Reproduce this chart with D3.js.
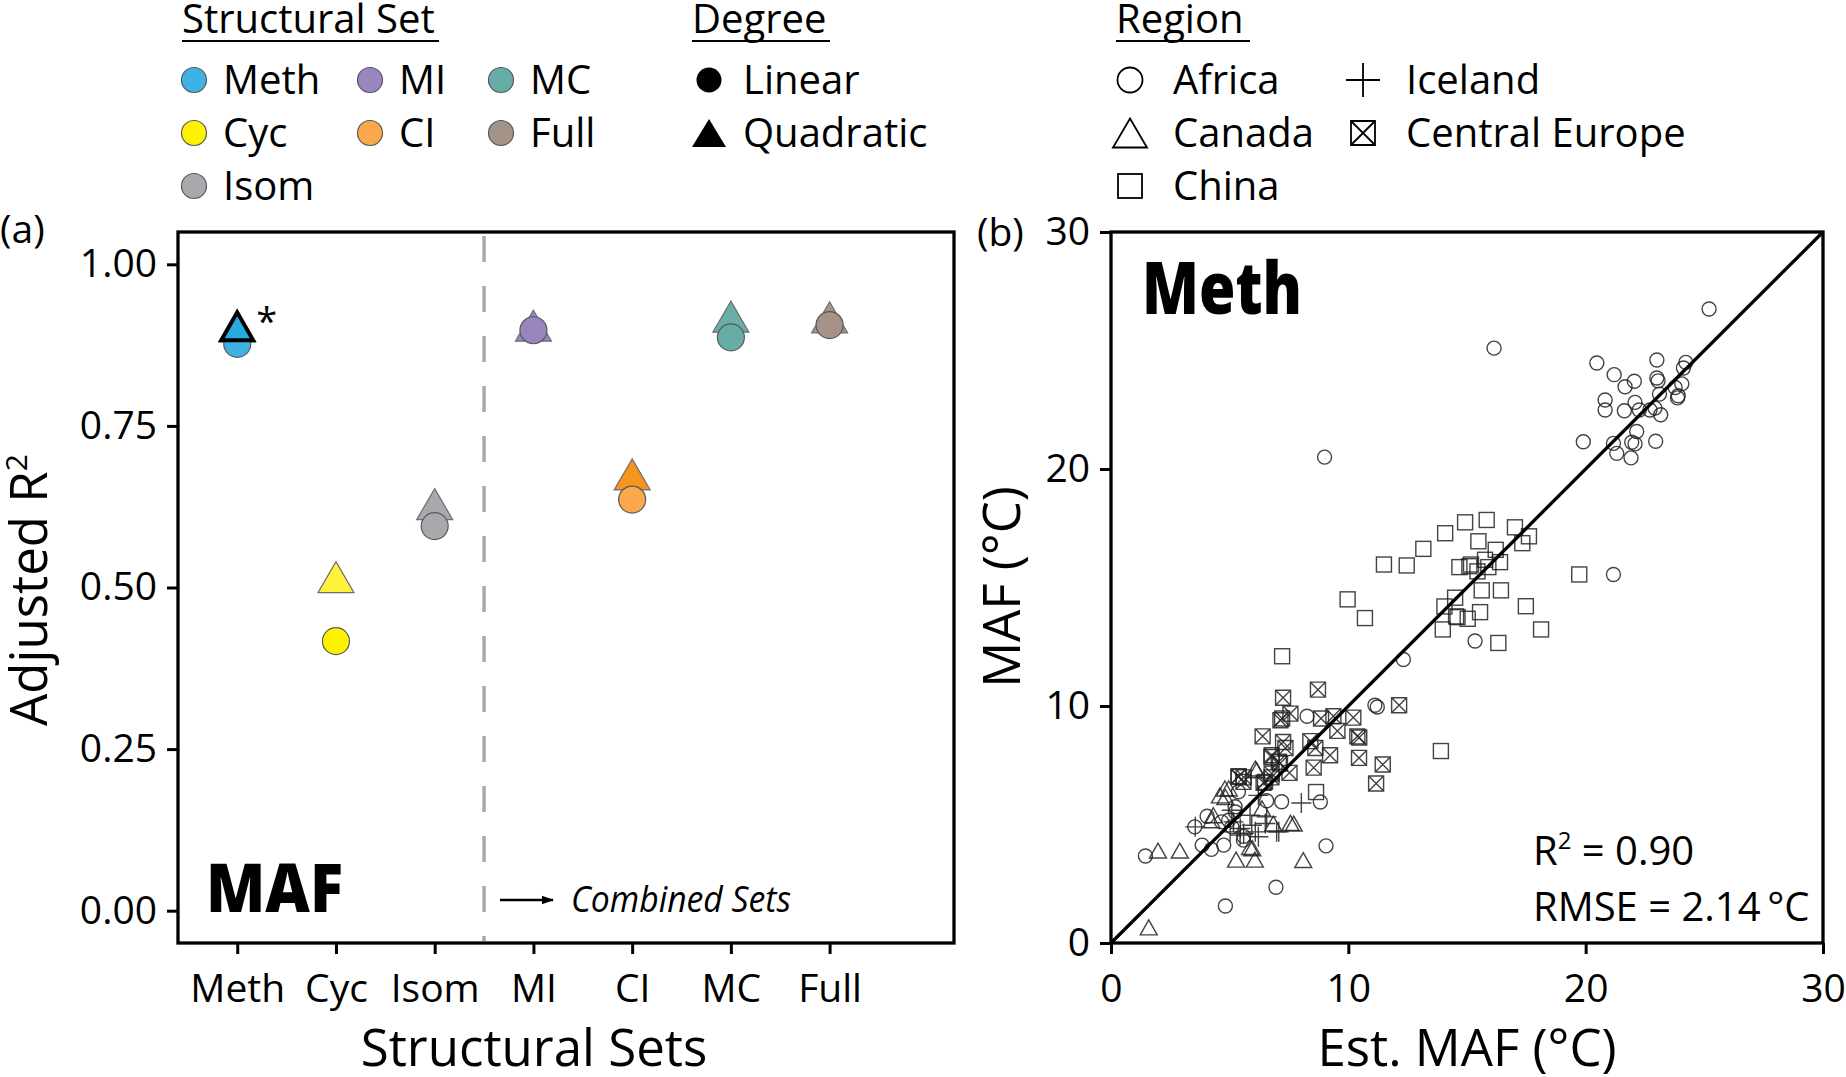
<!doctype html>
<html>
<head>
<meta charset="utf-8">
<style>
body { margin: 0; background: #fff; }
text { font-family: "Open Sans", sans-serif; }
</style>
<script src="https://cdn.jsdelivr.net/npm/d3@7"></script>
</head>
<body>
<svg width="1846" height="1077"></svg>
<script>
// ---- panel (a) data ----
var categories = ["Meth", "Cyc", "Isom", "MI", "CI", "MC", "Full"];
var linearR2 = [0.877, 0.417, 0.595, 0.898, 0.636, 0.887, 0.906];
var quadR2 = [0.904, 0.516, 0.629, 0.905, 0.675, 0.919, 0.918];
var circleColors = ["#3FB1E5", "#FFF200", "#A7A9AC", "#9A86BF", "#F9A94C", "#67ADA7", "#A69387"];
var triColors = ["#27AAE1", "#FFF23A", "#A7A9AC", "#9A86BF", "#F7941D", "#6AAEA8", "#A29388"];
var r2Ticks = [0, 0.25, 0.5, 0.75, 1];
var bestIndex = 0;

// ---- panel (b) data: [estimated MAF, measured MAF] ----
var africa = [[25.2,26.75],[20.47,24.47],[23.0,24.6],[24.22,24.5],[24.12,24.26],[21.2,23.98],[22.05,23.7],
  [21.66,23.47],[23.0,23.84],[23.05,23.72],[24.05,23.59],[23.77,23.44],[23.11,23.16],[23.9,23.09],[23.87,23.0],
  [20.82,22.91],[20.82,22.49],[21.63,22.46],[22.08,22.81],[22.26,22.49],[22.71,22.49],[22.92,22.57],[23.16,22.29],
  [22.15,21.58],[21.17,21.08],[21.94,21.13],[22.08,21.06],[19.9,21.15],[22.95,21.17],[21.31,20.66],[21.91,20.47],
  [16.14,25.1],[9.0,20.5],[21.17,15.55],[15.34,12.74],[12.32,11.96],[11.12,10.03],[11.22,9.96],[8.26,9.57],
  [1.45,3.67],[3.84,4.13],[4.23,3.95],[4.75,4.13],[9.06,4.1],[6.95,2.35],[4.82,1.56],[3.53,4.9],[4.05,5.35],
  [7.19,5.96],[8.82,5.95],[5.59,4.5],[4.96,5.18],[5.24,5.53],[5.58,4.34],[4.66,5.11],[5.37,6.38],[5.23,5.75],
  [5.09,4.9],[6.56,6.0]];
var canada = [[6.08,7.36],[4.96,6.52],[4.82,6.16],[4.23,5.18],[7.56,5.07],[7.7,5.04],[1.98,3.9],[2.9,3.9],
  [5.95,4.0],[5.27,3.52],[6.06,3.52],[8.1,3.5],[1.59,0.66],[6.36,5.68],[4.31,5.39],[5.86,4.05],[6.84,5.04],
  [4.59,6.23],[4.8,6.52],[6.14,7.29]];
var china = [[14.92,17.75],[15.83,17.85],[17.02,17.54],[17.61,17.16],[17.33,16.87],[14.08,17.29],[15.48,16.95],
  [16.21,16.59],[13.16,16.63],[11.5,15.97],[12.46,15.93],[14.68,15.86],[15.17,15.97],[15.76,16.17],[16.39,16.07],
  [15.9,15.86],[15.44,15.68],[19.73,15.55],[15.62,14.88],[16.43,14.88],[14.5,14.57],[14.05,14.2],[15.55,13.96],
  [14.54,13.78],[15.03,13.68],[17.48,14.21],[18.12,13.23],[13.98,13.23],[16.32,12.66],[9.97,14.5],[10.7,13.71],
  [13.9,8.1],[7.21,12.1],[8.64,6.37],[14.6,13.75],[15.1,15.9]];
var centralEurope = [[12.14,10.03],[10.21,9.51],[9.37,9.57],[9.54,8.95],[10.38,8.72],[10.46,8.67],[9.23,7.92],
  [10.45,7.81],[11.45,7.53],[11.17,6.73],[8.72,10.69],[7.25,10.35],[7.56,9.68],[7.21,9.47],[7.14,9.4],[8.85,9.47],
  [6.39,8.72],[7.25,8.48],[8.4,8.52],[8.61,8.23],[7.35,8.23],[6.76,7.85],[7.07,7.65],[7.52,7.18],[8.54,7.4],
  [5.38,7.04],[5.59,6.99],[6.43,6.76],[6.76,6.99],[5.37,7.01],[5.58,6.8],[6.49,6.8],[6.77,7.92],[7.12,7.57],[6.77,7.15]];
var iceland = [[8.02,5.91],[3.55,4.9],[6.98,4.69],[6.21,4.48],[5.44,4.55],[5.16,5.11],[5.93,4.97],[6.56,5.32],
  [5.09,5.6],[5.02,4.69],[5.86,5.39],[6.21,6.23],[6.5,5.04],[7.07,4.69],[6.08,4.69],[5.59,4.62],[5.45,4.83]];
var mafTicks = [0, 10, 20, 30];
var r2Text = "0.90", rmseText = "2.14";

var svg = d3.select("svg");

function triPath(w, h) {
  return "M0," + (-h / 2) + "L" + (w / 2) + "," + (h / 2) + "L" + (-w / 2) + "," + (h / 2) + "Z";
}

// ================= panel (a) =================
var xa = d3.scaleLinear().domain([-0.6, 7.26]).range([178, 954]);
var ya = d3.scaleLinear().domain([-0.05, 1.05]).range([943, 232]);

var ga = svg.append("g");
ga.append("line").attr("x1", xa(2.5)).attr("x2", xa(2.5)).attr("y1", 236).attr("y2", 941)
  .attr("stroke", "#A7A9AC").attr("stroke-width", 3.5).attr("stroke-dasharray", "26,24");

var yAxisA = ga.append("g").attr("transform", "translate(178,0)")
  .call(d3.axisLeft(ya).tickValues(r2Ticks).tickFormat(d3.format(".2f")).tickSize(11).tickPadding(10));
var xAxisA = ga.append("g").attr("transform", "translate(0,943)")
  .call(d3.axisBottom(xa).tickValues(d3.range(categories.length)).tickFormat(function(i) { return categories[i]; })
    .tickSize(11).tickPadding(12));
[yAxisA, xAxisA].forEach(function(ax) {
  ax.select(".domain").remove();
  ax.selectAll("line").attr("stroke", "#000").attr("stroke-width", 3);
  ax.selectAll("text").attr("font-size", 39).attr("fill", "#000").style("font-family", "Open Sans");
});
xAxisA.selectAll("text").attr("dy", "0.92em");

ga.selectAll("path.tri").data(categories).enter().append("path").attr("class", "tri")
  .attr("d", triPath(36, 31))
  .attr("transform", function(d, i) { return "translate(" + xa(i) + "," + ya(quadR2[i]) + ")"; })
  .attr("fill", function(d, i) { return triColors[i]; })
  .attr("stroke", "#6D6E71").attr("stroke-width", 1.2);
ga.selectAll("circle.lin").data(categories).enter().append("circle").attr("class", "lin")
  .attr("cx", function(d, i) { return xa(i); }).attr("cy", function(d, i) { return ya(linearR2[i]); })
  .attr("r", 13.5)
  .attr("fill", function(d, i) { return circleColors[i]; })
  .attr("stroke", "#58595B").attr("stroke-width", 1.2);
// best model highlighted on top
ga.append("path").attr("d", triPath(32, 28))
  .attr("transform", "translate(" + xa(bestIndex) + "," + ya(quadR2[bestIndex]) + ")")
  .attr("fill", triColors[bestIndex]).attr("stroke", "#000").attr("stroke-width", 4).attr("stroke-linejoin", "miter");
ga.append("text").attr("x", xa(bestIndex) + 19).attr("y", ya(quadR2[bestIndex]) + 9)
  .attr("font-size", 38).text("*");

ga.append("rect").attr("x", 178).attr("y", 232).attr("width", 776).attr("height", 711)
  .attr("fill", "none").attr("stroke", "#000").attr("stroke-width", 3.3);

ga.append("text").attr("x", 206).attr("y", 912).attr("font-size", 68).attr("font-weight", 800)
  .attr("textLength", 137).attr("lengthAdjust", "spacingAndGlyphs").text("MAF");
svg.append("defs").append("marker").attr("id", "arr").attr("viewBox", "0 0 10 10")
  .attr("refX", 9).attr("refY", 5).attr("markerWidth", 5).attr("markerHeight", 5).attr("orient", "auto")
  .append("path").attr("d", "M0,1.5L10,5L0,8.5Z").attr("fill", "#000");
ga.append("line").attr("x1", 500).attr("x2", 553).attr("y1", 900).attr("y2", 900)
  .attr("stroke", "#000").attr("stroke-width", 2.5).attr("marker-end", "url(#arr)");
ga.append("text").attr("x", 571).attr("y", 912).attr("font-size", 36).attr("font-style", "italic")
  .attr("textLength", 220).attr("lengthAdjust", "spacingAndGlyphs").text("Combined Sets");

ga.append("text").attr("x", 0).attr("y", 243).attr("font-size", 39).text("(a)");
ga.append("text").attr("transform", "translate(47,590) rotate(-90)").attr("text-anchor", "middle")
  .attr("font-size", 51).html("Adjusted R<tspan font-size='30' dy='-20'>2</tspan>");
ga.append("text").attr("x", 534).attr("y", 1066).attr("text-anchor", "middle").attr("font-size", 51)
  .text("Structural Sets");

// ================= panel (b) =================
var xb = d3.scaleLinear().domain([0, 30]).range([1111, 1823]);
var yb = d3.scaleLinear().domain([0, 30]).range([943, 232]);
var gb = svg.append("g");

var yAxisB = gb.append("g").attr("transform", "translate(1111,0)")
  .call(d3.axisLeft(yb).tickValues(mafTicks).tickSize(11).tickPadding(10));
var xAxisB = gb.append("g").attr("transform", "translate(0,943)")
  .call(d3.axisBottom(xb).tickValues(mafTicks).tickSize(11).tickPadding(12));
[yAxisB, xAxisB].forEach(function(ax) {
  ax.select(".domain").remove();
  ax.selectAll("line").attr("stroke", "#000").attr("stroke-width", 3);
  ax.selectAll("text").attr("font-size", 39).attr("fill", "#000").style("font-family", "Open Sans");
});
xAxisB.selectAll("text").attr("dy", "0.92em");

var pts = gb.append("g").attr("fill", "none").attr("stroke", "#222").attr("stroke-width", 1.4)
  .attr("stroke-opacity", 0.85);
pts.selectAll("circle").data(africa).enter().append("circle")
  .attr("cx", function(d) { return xb(d[0]); }).attr("cy", function(d) { return yb(d[1]); }).attr("r", 7);
pts.selectAll("path.ca").data(canada).enter().append("path").attr("class", "ca")
  .attr("d", triPath(17, 15))
  .attr("transform", function(d) { return "translate(" + xb(d[0]) + "," + yb(d[1]) + ")"; });
pts.selectAll("rect.cn").data(china).enter().append("rect").attr("class", "cn")
  .attr("x", function(d) { return xb(d[0]) - 7.5; }).attr("y", function(d) { return yb(d[1]) - 7.5; })
  .attr("width", 15).attr("height", 15);
pts.selectAll("path.ce").data(centralEurope).enter().append("path").attr("class", "ce")
  .attr("d", "M-7.5,-7.5H7.5V7.5H-7.5ZM-7.5,-7.5L7.5,7.5M7.5,-7.5L-7.5,7.5")
  .attr("transform", function(d) { return "translate(" + xb(d[0]) + "," + yb(d[1]) + ")"; });
pts.selectAll("path.is").data(iceland).enter().append("path").attr("class", "is")
  .attr("d", "M-10,0H10M0,-10V10")
  .attr("transform", function(d) { return "translate(" + xb(d[0]) + "," + yb(d[1]) + ")"; });

gb.append("line").attr("x1", xb(0)).attr("y1", yb(0)).attr("x2", xb(30)).attr("y2", yb(30))
  .attr("stroke", "#000").attr("stroke-width", 3.3);
gb.append("rect").attr("x", 1111).attr("y", 232).attr("width", 712).attr("height", 711)
  .attr("fill", "none").attr("stroke", "#000").attr("stroke-width", 3.3);

gb.append("text").attr("x", 1142).attr("y", 314).attr("font-size", 72).attr("font-weight", 800)
  .attr("textLength", 160).attr("lengthAdjust", "spacingAndGlyphs").text("Meth");
gb.append("text").attr("x", 1533).attr("y", 865).attr("font-size", 40)
  .html("R<tspan font-size='24' dy='-16'>2</tspan><tspan dy='16'> = " + r2Text + "</tspan>");
gb.append("text").attr("x", 1533).attr("y", 921).attr("font-size", 40)
  .text("RMSE = " + rmseText + "\u2009\u00B0C");

gb.append("text").attr("x", 977).attr("y", 246).attr("font-size", 39).text("(b)");
gb.append("text").attr("transform", "translate(1020,587) rotate(-90)").attr("text-anchor", "middle")
  .attr("font-size", 51).text("MAF (\u00B0C)");
gb.append("text").attr("x", 1467).attr("y", 1066).attr("text-anchor", "middle").attr("font-size", 51)
  .text("Est. MAF (\u00B0C)");

// ================= legends =================
var lg = svg.append("g");
var rowY = [80, 133, 186];
function title(x, label, w) {
  lg.append("text").attr("x", x).attr("y", 33).attr("font-size", 40).text(label);
  lg.append("line").attr("x1", x).attr("x2", x + w).attr("y1", 41).attr("y2", 41)
    .attr("stroke", "#000").attr("stroke-width", 2.2);
}
function label(x, y, t) {
  lg.append("text").attr("x", x).attr("y", y + 14).attr("font-size", 40).text(t);
}
title(182, "Structural Set", 257);
title(692, "Degree", 138);
title(1116, "Region", 134);

var legendCols = [[0, 1, 2], [3, 4], [5, 6]];
var colMarkX = [194, 370, 501];
legendCols.forEach(function(col, c) {
  col.forEach(function(i, r) {
    lg.append("circle").attr("cx", colMarkX[c]).attr("cy", rowY[r]).attr("r", 12.5)
      .attr("fill", circleColors[i]).attr("stroke", "#58595B").attr("stroke-width", 1.2);
    label(colMarkX[c] + 29, rowY[r], categories[i]);
  });
});

lg.append("circle").attr("cx", 709).attr("cy", rowY[0]).attr("r", 12.5).attr("fill", "#000");
label(743, rowY[0], "Linear");
lg.append("path").attr("d", triPath(34, 28)).attr("transform", "translate(709," + rowY[1] + ")").attr("fill", "#000");
label(743, rowY[1], "Quadratic");

var rl = lg.append("g").attr("fill", "none").attr("stroke", "#000").attr("stroke-width", 1.8);
rl.append("circle").attr("cx", 1130).attr("cy", rowY[0]).attr("r", 12.5);
rl.append("path").attr("d", triPath(34, 29)).attr("transform", "translate(1130," + rowY[1] + ")");
rl.append("rect").attr("x", 1118).attr("y", rowY[2] - 12).attr("width", 24).attr("height", 24);
rl.append("path").attr("d", "M-17,0H17M0,-17V17").attr("transform", "translate(1363," + rowY[0] + ")");
rl.append("path").attr("d", "M-12,-12H12V12H-12ZM-12,-12L12,12M12,-12L-12,12")
  .attr("transform", "translate(1363," + rowY[1] + ")");
label(1173, rowY[0], "Africa");
label(1173, rowY[1], "Canada");
label(1173, rowY[2], "China");
label(1406, rowY[0], "Iceland");
label(1406, rowY[1], "Central Europe");
</script>
</body>
</html>
